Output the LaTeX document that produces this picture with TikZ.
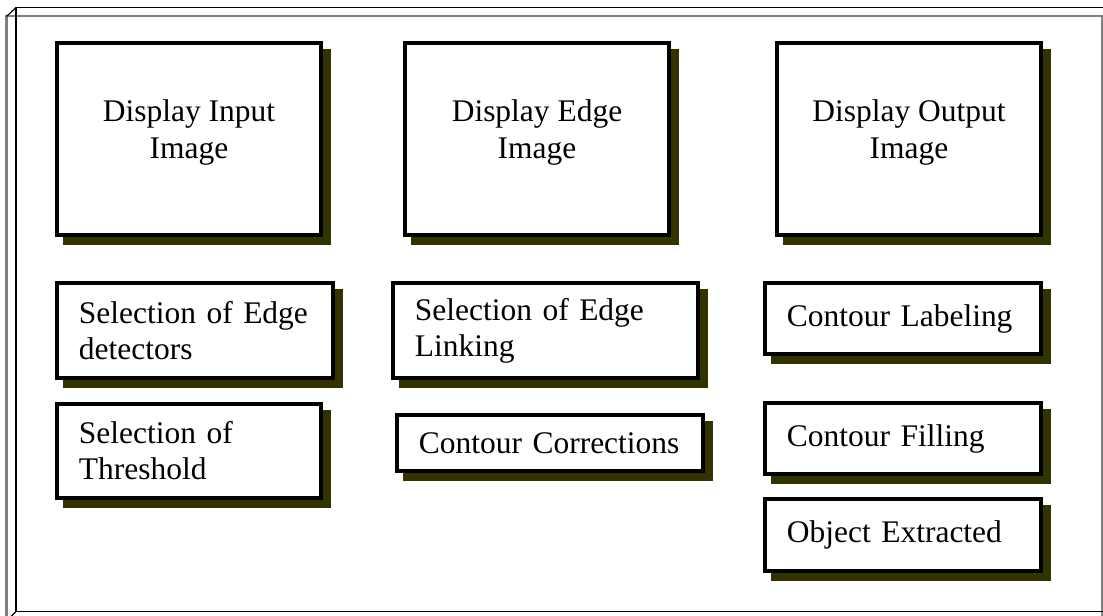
\documentclass[tikz,border=0pt]{standalone}
\usepackage{fontspec}
\setmainfont{Liberation Serif}
\usepackage{xcolor}
\usetikzlibrary{backgrounds}
\definecolor{shadowolive}{RGB}{51,51,0}
\definecolor{framegray}{RGB}{128,128,128}
\def\boxfont{\fontsize{8.95pt}{10.25pt}\selectfont}

\begin{document}
\begin{tikzpicture}[x=0.01cm,y=-0.01cm,
    box/.style={draw,fill=white,line width=0.04cm,inner sep=0pt,font=\boxfont},
    bigbox/.style={box,minimum width=2.64cm,minimum height=1.92cm},
    bigtext/.style={align=center,inner sep=0pt,font=\boxfont},
    smallbox/.style={box,align=left,text width=#1,inner xsep=0.22cm}]
    \useasboundingbox (0,0) rectangle (1103,616);
    \draw[framegray,line width=0.02cm] (6.5,700) -- (6.5,16.5) -- (1101.5,16.5) -- (1101.5,700);
    \draw[line width=0.015cm] (1200,7.5) -- (16,7.5) -- (16,611.5) -- (1200,611.5);
    \draw[line width=0.012cm] (6.5,16.5) -- (16,7.5);
    \draw[line width=0.012cm] (16,611.5) -- (10.5,617);

    \node[bigbox] (input) at (189,139) {};
    \node[bigbox] (edge) at (537,139) {};
    \node[bigbox] (output) at (909,139) {};
    \node[bigtext] (inputtext) at ([yshift=0.065cm]input.center) {Display Input\\Image};
    \node[bigtext] (edgetext) at ([yshift=0.065cm]edge.center) {Display Edge\\Image};
    \node[bigtext] (outputtext) at ([yshift=0.065cm]output.center) {Display Output\\Image};

    \node[smallbox=2.32cm,minimum height=0.95cm] (detect) at (195,330.5) {\mbox{Selection of Edge}\\detectors};
    \node[smallbox=2.61cm,minimum height=0.95cm] (link) at (545.5,330.5) {\mbox{Selection of Edge}\\Linking};
    \node[smallbox=2.32cm,minimum height=0.71cm] (labeling) at (903,318.5) {\mbox{Contour Labeling}};
    \node[smallbox=2.2cm,minimum height=0.94cm] (thresh) at (189,451) {\mbox{Selection of}\\Threshold};
    \node[smallbox=2.62cm,minimum height=0.56cm] (correct) at (550,443) {\mbox{Contour Corrections}};
    \node[smallbox=2.32cm,minimum height=0.71cm] (filling) at (903,438.5) {\mbox{Contour Filling}};
    \node[smallbox=2.32cm,minimum height=0.72cm] (extract) at (903,535) {\mbox{Object Extracted}};

    \begin{scope}[on background layer]
    \foreach \b in {input,edge,output,detect,link,labeling,thresh,correct,filling,extract}
      \fill[shadowolive] ([shift={(8,8)}]\b.south west) rectangle ([shift={(8,8)}]\b.north east);
    \end{scope}
\end{tikzpicture}
\end{document}
